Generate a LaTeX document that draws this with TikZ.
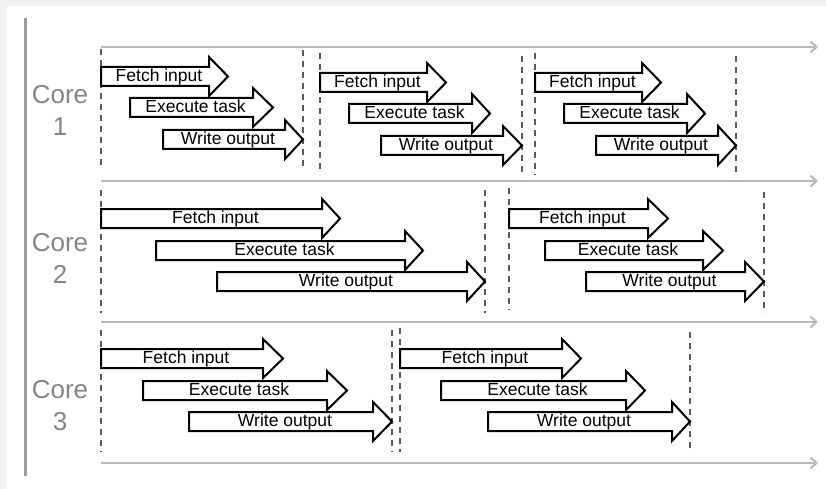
\documentclass[tikz,border=0pt]{standalone}
\usepackage{fontspec}
\setmainfont{Liberation Sans}
\usetikzlibrary{arrows.meta}
\definecolor{bggray}{HTML}{F2F2F2}
\definecolor{axisgray}{HTML}{B8B8B8}
\definecolor{dashgray}{HTML}{5A5A5A}
\definecolor{coregray}{HTML}{858585}
\tikzset{
  blk/.style={draw=black,fill=white,line width=2pt,line join=miter},
  lbl/.style={font=\fontsize{17.5}{20}\selectfont,inner sep=0pt,text=black},
  dsh/.style={draw=dashgray,line width=1.4pt,dash pattern=on 6pt off 5pt},
  axis/.style={draw=axisgray,line width=2.4pt,-{Straight Barb[length=6pt,width=11pt,line width=2pt]}},
  corelbl/.style={font=\fontsize{26}{32}\selectfont,text=coregray,align=center,inner sep=0pt}
}
\newcommand{\blockarr}[7]{%
  \draw[blk] ({#1},{#4}) -- ({#2},{#4}) -- ({#2},{#4-10}) -- ({#3},{(#4+#5)/2}) -- ({#2},{#5+10}) -- ({#2},{#5}) -- ({#1},{#5}) -- cycle;
  \node[lbl,anchor=base] (#6) at ({(#1+#2)/2+4},{#5-4.5}) {#7};
}
\newcommand{\sepline}[4]{%
  \coordinate (#1t) at ({#2},{#3});
  \coordinate (#1b) at ({#2},{#4});
  \draw[dsh] (#1t) -- (#1b);
}
\begin{document}
\begin{tikzpicture}[x=1pt,y=-1pt]
\useasboundingbox (0,0) rectangle (826,489);
\fill[bggray] (0,0) rectangle (826,489);
\fill[white] (7,6) rectangle (826,489);
% left vertical rule
\coordinate (L1) at (25.5,18);
\coordinate (L2) at (25.5,476);
\draw[draw=axisgray!85!black,line width=2.5pt] (L1) -- (L2);
% time axes
\foreach \n/\y in {a/47,b/181,c/322,d/463}{
  \coordinate (ax\n s) at (101,\y);
  \coordinate (ax\n e) at (818,\y);
  \draw[axis] (ax\n s) -- (ax\n e);
}
% core labels
\node[corelbl] (core1) at (60,110) {Core\\1};
\node[corelbl] (core2) at (60,258) {Core\\2};
\node[corelbl] (core3) at (60,406) {Core\\3};
% dashed separators
\sepline{d1a}{101}{49}{169}
\sepline{d1b}{303}{50}{170}
\sepline{d1c}{320}{53}{174}
\sepline{d1d}{522}{56}{177}
\sepline{d1e}{535}{53}{175}
\sepline{d1f}{736}{56}{177}
\sepline{d2a}{101}{190}{313}
\sepline{d2b}{485}{190}{313}
\sepline{d2c}{509}{188}{310}
\sepline{d2d}{764}{192}{313}
\sepline{d3a}{101}{330}{452}
\sepline{d3b}{392}{330}{452}
\sepline{d3c}{400}{328}{452}
\sepline{d3d}{690}{332}{453}
% core 1
\blockarr{101}{209}{228}{67}{86}{f1a}{Fetch input}
\blockarr{130}{253}{273}{98}{117}{e1a}{Execute task}
\blockarr{163}{285}{303}{130}{149}{w1a}{Write output}
\blockarr{320}{427}{446}{73}{92}{f1b}{Fetch input}
\blockarr{349}{472}{490}{104}{123}{e1b}{Execute task}
\blockarr{381}{503}{522}{136}{155}{w1b}{Write output}
\blockarr{535}{642}{661}{73}{92}{f1c}{Fetch input}
\blockarr{564}{687}{705}{104}{123}{e1c}{Execute task}
\blockarr{596}{718}{736}{136}{155}{w1c}{Write output}
% core 2
\blockarr{101}{322}{340}{209}{228}{f2a}{Fetch input}
\blockarr{156}{405}{423}{241}{260}{e2a}{Execute task}
\blockarr{217}{467}{485}{272}{291}{w2a}{Write output}
\blockarr{509}{648}{668}{209}{228}{f2b}{Fetch input}
\blockarr{545}{703}{723}{241}{260}{e2b}{Execute task}
\blockarr{586}{745}{764}{272}{291}{w2b}{Write output}
% core 3
\blockarr{101}{263}{283}{349}{368}{f3a}{Fetch input}
\blockarr{143}{327}{347}{381}{400}{e3a}{Execute task}
\blockarr{189}{373}{392}{412}{431}{w3a}{Write output}
\blockarr{400}{562}{581}{349}{368}{f3b}{Fetch input}
\blockarr{441}{626}{645}{381}{400}{e3b}{Execute task}
\blockarr{488}{672}{690}{412}{431}{w3b}{Write output}
\end{tikzpicture}
\end{document}
